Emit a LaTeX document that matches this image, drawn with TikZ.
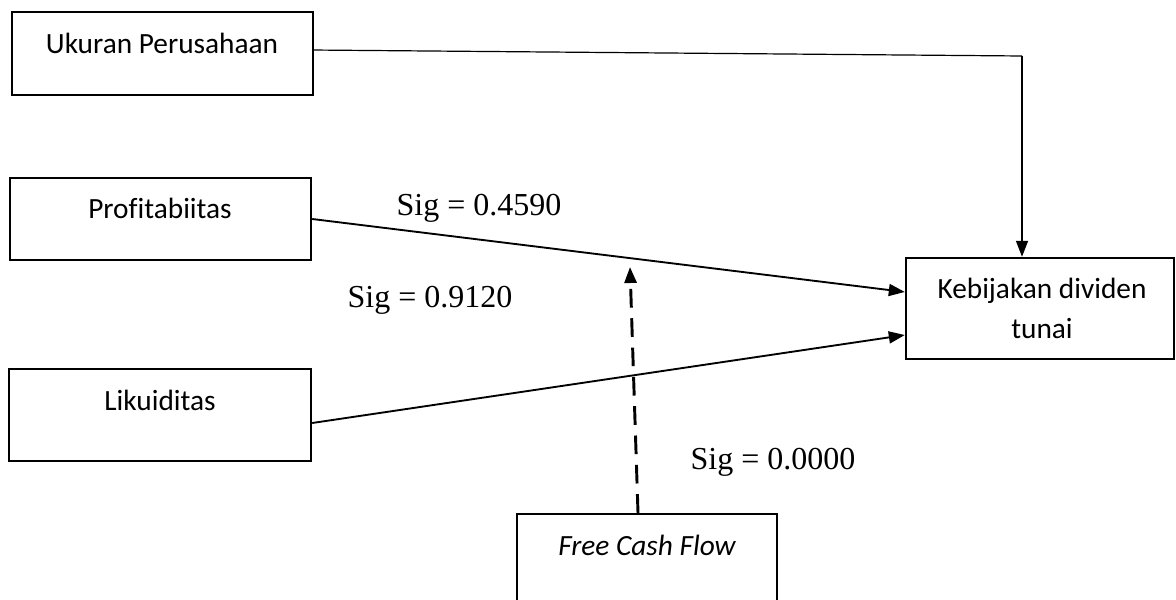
\documentclass[tikz,border=0pt]{standalone}
\usepackage{fontspec}
\setmainfont[Ligatures=NoCommon]{Carlito}
\newfontfamily\tnr{Liberation Serif}
\usetikzlibrary{arrows.meta}
\begin{document}
\begin{tikzpicture}[x=0.75pt,y=-0.75pt,
  box/.style={draw, line width=1.8pt, rectangle, inner sep=0pt},
  lbl/.style={font=\fontsize{22}{30}\selectfont, inner sep=0pt, align=center},
  sig/.style={font=\tnr\fontsize{24}{28}\selectfont, inner sep=0pt},
  tip/.style={-{Triangle[length=12pt,width=9pt]}},
  conn/.style={line width=1.4pt, tip},
]
\useasboundingbox (0,0) rectangle (1176,599);
% boxes
\node[box, minimum width=225.75pt, minimum height=62.25pt] (uk) at (162.5,53.5) {};
\node[box, minimum width=225.75pt, minimum height=61.5pt] (pr) at (160.5,219) {};
\node[box, minimum width=226.5pt, minimum height=69pt] (li) at (160,415) {};
\node[box, minimum width=201pt, minimum height=75.75pt] (keb) at (1040,308.5) {};
\node[box, minimum width=195pt, minimum height=72pt] (fcf) at (647,562) {};
% texts
\node[lbl] (tuk) at (162,43) {Ukuran Perusahaan};
\node[lbl] (tpr) at (160,208) {Profitabiitas};
\node[lbl] (tli) at (160,400) {Likuiditas};
\node[lbl] (tkeb) at (1042,308) {Kebijakan dividen\\tunai};
\node[lbl] (tfcf) at (647,545) {\itshape Free Cash Flow};
% sig labels
\node[sig] (s1) at (479,208) {Sig = 0.4590};
\node[sig] (s2) at (430,300) {Sig = 0.9120};
\node[sig] (s3) at (773,462) {Sig = 0.0000};
% connectors
\coordinate (bend) at (1022,56);
\draw[line width=0.9pt] ([yshift=2.6pt]uk.east) -- (bend);
\draw[line width=1.1pt, tip] (bend) -- (keb.north -| bend);
\draw[conn] (pr.east) -- ([yshift=12.4pt]keb.west);
\draw[conn] ([yshift=-6pt]li.east) -- ([yshift=-19.9pt]keb.west);
\coordinate (mod) at (630,267);
\draw[line width=2.2pt, dash pattern=on 14pt off 8pt, tip] ([xshift=-6.75pt]fcf.north) -- (mod);
\end{tikzpicture}
\end{document}
